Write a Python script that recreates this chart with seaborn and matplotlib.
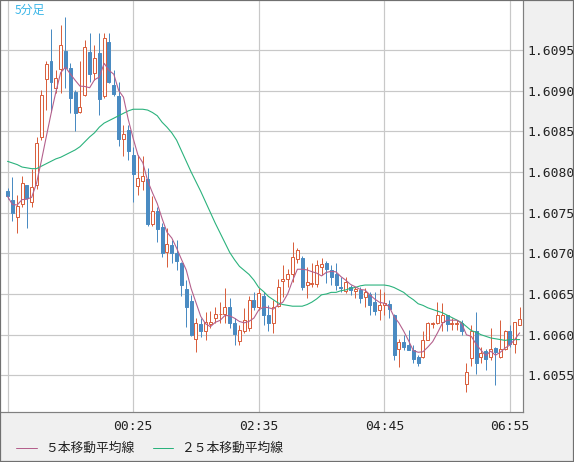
import numpy as np
import pandas as pd
import matplotlib
matplotlib.use("Agg")
import matplotlib.pyplot as plt
import seaborn as sns
from matplotlib.lines import Line2D
from matplotlib.patches import Rectangle

# ---------------- data (5-minute candles) ----------------
opens = [1.60776, 1.60766, 1.60745, 1.60761, 1.60784, 1.60763, 1.60784, 1.60843, 1.60914, 1.60936,
         1.60903, 1.60926, 1.60948, 1.60928, 1.60898, 1.60874, 1.60895, 1.60947, 1.60922, 1.60946,
         1.60893, 1.60960, 1.60907, 1.60893, 1.60841, 1.60852, 1.60821, 1.60783, 1.60789, 1.60791,
         1.60736, 1.60752, 1.60732, 1.60701, 1.60710, 1.60700, 1.60688, 1.60656, 1.60641, 1.60595,
         1.60613, 1.60605, 1.60613, 1.60620, 1.60625, 1.60625, 1.60634, 1.60614, 1.60592, 1.60604,
         1.60608, 1.60643, 1.60634, 1.60647, 1.60624, 1.60614, 1.60635, 1.60666, 1.60668, 1.60675,
         1.60693, 1.60694, 1.60661, 1.60662, 1.60662, 1.60683, 1.60688, 1.60679, 1.60675, 1.60659,
         1.60654, 1.60659, 1.60654, 1.60655, 1.60646, 1.60650, 1.60640, 1.60630, 1.60636, 1.60638,
         1.60624, 1.60582, 1.60591, 1.60587, 1.60581, 1.60572, 1.60572, 1.60594, 1.60613, 1.60614,
         1.60616, 1.60624, 1.60613, 1.60613, 1.60614, 1.60540, 1.60571, 1.60605, 1.60572, 1.60580,
         1.60573, 1.60584, 1.60572, 1.60583, 1.60604, 1.60589, 1.60612]
highs = [1.60780, 1.60794, 1.60772, 1.60795, 1.60784, 1.60803, 1.60843, 1.60901, 1.60936, 1.60975,
         1.60925, 1.60981, 1.60990, 1.60934, 1.60901, 1.60936, 1.60962, 1.60971, 1.60956, 1.60971,
         1.60971, 1.60971, 1.60925, 1.60911, 1.60858, 1.60858, 1.60831, 1.60821, 1.60820, 1.60805,
         1.60770, 1.60757, 1.60737, 1.60731, 1.60716, 1.60716, 1.60689, 1.60667, 1.60649, 1.60620,
         1.60620, 1.60628, 1.60629, 1.60634, 1.60640, 1.60657, 1.60645, 1.60620, 1.60612, 1.60633,
         1.60647, 1.60653, 1.60657, 1.60653, 1.60636, 1.60643, 1.60669, 1.60686, 1.60681, 1.60714,
         1.60707, 1.60697, 1.60683, 1.60688, 1.60692, 1.60694, 1.60690, 1.60686, 1.60688, 1.60671,
         1.60671, 1.60661, 1.60659, 1.60659, 1.60657, 1.60653, 1.60653, 1.60656, 1.60653, 1.60643,
         1.60626, 1.60595, 1.60599, 1.60606, 1.60587, 1.60575, 1.60604, 1.60616, 1.60616, 1.60640,
         1.60639, 1.60624, 1.60620, 1.60618, 1.60618, 1.60565, 1.60612, 1.60628, 1.60585, 1.60583,
         1.60608, 1.60585, 1.60618, 1.60606, 1.60612, 1.60616, 1.60634]
lows = [1.60767, 1.60740, 1.60725, 1.60757, 1.60731, 1.60757, 1.60779, 1.60839, 1.60876, 1.60874,
        1.60897, 1.60897, 1.60903, 1.60872, 1.60850, 1.60872, 1.60893, 1.60911, 1.60913, 1.60870,
        1.60891, 1.60909, 1.60893, 1.60832, 1.60820, 1.60815, 1.60763, 1.60772, 1.60778, 1.60734,
        1.60733, 1.60714, 1.60695, 1.60683, 1.60688, 1.60679, 1.60647, 1.60609, 1.60598, 1.60579,
        1.60597, 1.60593, 1.60608, 1.60614, 1.60614, 1.60614, 1.60608, 1.60587, 1.60587, 1.60602,
        1.60604, 1.60630, 1.60630, 1.60612, 1.60604, 1.60602, 1.60634, 1.60646, 1.60659, 1.60665,
        1.60688, 1.60655, 1.60645, 1.60659, 1.60659, 1.60673, 1.60663, 1.60661, 1.60655, 1.60653,
        1.60651, 1.60649, 1.60645, 1.60639, 1.60634, 1.60624, 1.60624, 1.60618, 1.60624, 1.60620,
        1.60569, 1.60560, 1.60581, 1.60581, 1.60565, 1.60562, 1.60571, 1.60593, 1.60608, 1.60613,
        1.60604, 1.60604, 1.60606, 1.60606, 1.60600, 1.60530, 1.60562, 1.60552, 1.60565, 1.60556,
        1.60569, 1.60538, 1.60571, 1.60581, 1.60585, 1.60577, 1.60612]
closes = [1.60770, 1.60750, 1.60758, 1.60786, 1.60768, 1.60782, 1.60836, 1.60895, 1.60932, 1.60911,
          1.60916, 1.60956, 1.60928, 1.60891, 1.60872, 1.60880, 1.60954, 1.60920, 1.60940, 1.60889,
          1.60964, 1.60911, 1.60896, 1.60841, 1.60847, 1.60826, 1.60797, 1.60792, 1.60795, 1.60736,
          1.60752, 1.60730, 1.60700, 1.60712, 1.60700, 1.60690, 1.60661, 1.60634, 1.60599, 1.60614,
          1.60604, 1.60616, 1.60616, 1.60626, 1.60626, 1.60634, 1.60614, 1.60601, 1.60606, 1.60618,
          1.60643, 1.60634, 1.60651, 1.60624, 1.60614, 1.60634, 1.60659, 1.60669, 1.60675, 1.60695,
          1.60704, 1.60659, 1.60665, 1.60664, 1.60686, 1.60687, 1.60681, 1.60671, 1.60661, 1.60657,
          1.60665, 1.60655, 1.60656, 1.60645, 1.60653, 1.60636, 1.60629, 1.60636, 1.60639, 1.60632,
          1.60575, 1.60591, 1.60585, 1.60581, 1.60570, 1.60565, 1.60594, 1.60614, 1.60614, 1.60624,
          1.60624, 1.60613, 1.60614, 1.60614, 1.60604, 1.60554, 1.60604, 1.60565, 1.60578, 1.60570,
          1.60582, 1.60579, 1.60583, 1.60604, 1.60589, 1.60616, 1.60619]
# 25-bar moving average as drawn on the chart (includes bars before the window)
ma25 = [1.60813, 1.60811, 1.60809, 1.60806, 1.60805, 1.60804, 1.60804, 1.60807, 1.60810, 1.60813,
        1.60816, 1.60818, 1.60821, 1.60824, 1.60827, 1.60831, 1.60837, 1.60843, 1.60848, 1.60855,
        1.60860, 1.60863, 1.60866, 1.60869, 1.60872, 1.60875, 1.60877, 1.60877, 1.60877, 1.60876,
        1.60873, 1.60869, 1.60861, 1.60855, 1.60848, 1.60839, 1.60826, 1.60813, 1.60800, 1.60788,
        1.60776, 1.60763, 1.60750, 1.60737, 1.60725, 1.60713, 1.60701, 1.60692, 1.60684, 1.60679,
        1.60674, 1.60667, 1.60658, 1.60653, 1.60647, 1.60643, 1.60639, 1.60637, 1.60636, 1.60635,
        1.60635, 1.60635, 1.60637, 1.60640, 1.60644, 1.60649, 1.60650, 1.60652, 1.60652, 1.60654,
        1.60655, 1.60657, 1.60658, 1.60660, 1.60661, 1.60661, 1.60661, 1.60661, 1.60661, 1.60660,
        1.60658, 1.60655, 1.60652, 1.60647, 1.60643, 1.60638, 1.60636, 1.60633, 1.60631, 1.60629,
        1.60627, 1.60624, 1.60621, 1.60618, 1.60615, 1.60610, 1.60605, 1.60603, 1.60600, 1.60598,
        1.60596, 1.60595, 1.60594, 1.60593, 1.60594, 1.60594, 1.60594]

price_ticks = [1.6055, 1.6060, 1.6065, 1.6070, 1.6075, 1.6080, 1.6085, 1.6090, 1.6095]
time_tick_pos = [0, 26, 52, 78, 104]
time_tick_labels = ["", "00:25", "02:35", "04:45", "06:55"]
legend_labels = ["５本移動平均線", "２５本移動平均線"]
timeframe_label = "5分足"

# ---------------- style ----------------
RED = "#d9603e"
BLUE = "#4a8bc2"
MA5_COL = "#b4608c"
MA25_COL = "#2ab27c"
GRID = "#c8c8c8"
BG = "#f0f0f0"

sns.set_style("white")
plt.rcParams["font.family"] = ["DejaVu Sans Mono"]

W, H = 574, 462
fig = plt.figure(figsize=(W / 100, H / 100), dpi=100, facecolor=BG)
ax = fig.add_axes([1 / W, 1 - 412 / H, 522 / W, 411 / H])
ax.set_facecolor("white")

df = pd.DataFrame({
    "bar": np.arange(len(closes)),
    "open": opens, "high": highs, "low": lows, "close": closes,
    "ma25": ma25,
})
df["ma5"] = df["close"].rolling(5, min_periods=1).mean()

px = 0.72  # one pixel in points
bw = 0.62

bull = df[df["close"] >= df["open"]]
bear = df[df["close"] < df["open"]]

# bear candles: filled blue
ax.vlines(bear["bar"], bear["low"], bear["high"], color=BLUE, linewidth=px, zorder=2)
ax.bar(bear["bar"], bear["open"] - bear["close"], bottom=bear["close"], width=bw,
       color=BLUE, edgecolor=BLUE, linewidth=px, zorder=3)
# bull candles: hollow red
ax.vlines(bull["bar"], bull["low"], bull["open"], color=RED, linewidth=px, zorder=2)
ax.vlines(bull["bar"], bull["close"], bull["high"], color=RED, linewidth=px, zorder=2)
ax.bar(bull["bar"], bull["close"] - bull["open"], bottom=bull["open"], width=bw,
       facecolor="white", edgecolor=RED, linewidth=px, zorder=3)

sns.lineplot(data=df, x="bar", y="ma25", color=MA25_COL, linewidth=px * 1.1, ax=ax, zorder=4)
sns.lineplot(data=df, x="bar", y="ma5", color=MA5_COL, linewidth=px * 1.1, ax=ax, zorder=5)

# scales
ax.set_xlim(-1.35, 106.7)
ax.set_ylim(1.60505, 1.61010)
ax.set_xlabel("")
ax.set_ylabel("")

ax.set_yticks(price_ticks)
ax.set_yticklabels([f"{v:.4f}" for v in price_ticks])
ax.yaxis.tick_right()
ax.set_xticks(time_tick_pos)
ax.set_xticklabels(time_tick_labels)
ax.tick_params(axis="y", length=0, pad=3, labelsize=9.4, colors="#222222")
ax.tick_params(axis="x", length=0, pad=6, labelsize=9.4, colors="#222222")
ax.grid(True, color=GRID, linewidth=px * 1.2)
ax.set_axisbelow(True)

for s in ["left", "top"]:
    ax.spines[s].set_visible(False)
for s in ["right", "bottom"]:
    ax.spines[s].set_color("#808080")
    ax.spines[s].set_linewidth(px * 1.2)

# timeframe label
ax.text(14 / 522, 1 - 9 / 411, timeframe_label, transform=ax.transAxes,
        family=["Noto Sans CJK JP"], fontsize=8.6, color="#3ab6e8", va="center", ha="left")

# legend
ly = 1 - 448 / H
fig.add_artist(Line2D([16 / W, 37 / W], [ly, ly], color=MA5_COL, linewidth=px, transform=fig.transFigure))
fig.text(45 / W, ly, legend_labels[0], family=["Noto Sans CJK JP"], fontsize=9.2,
         color="#222222", va="center", ha="left")
fig.add_artist(Line2D([153 / W, 173 / W], [ly, ly], color=MA25_COL, linewidth=px, transform=fig.transFigure))
fig.text(181 / W, ly, legend_labels[1], family=["Noto Sans CJK JP"], fontsize=9.2,
         color="#222222", va="center", ha="left")

# outer frame
fig.add_artist(Rectangle((0, 0), 1, 1, transform=fig.transFigure, fill=False,
                         edgecolor="#707070", linewidth=1.6))

fig.savefig("out.png", dpi=100, facecolor=BG)
